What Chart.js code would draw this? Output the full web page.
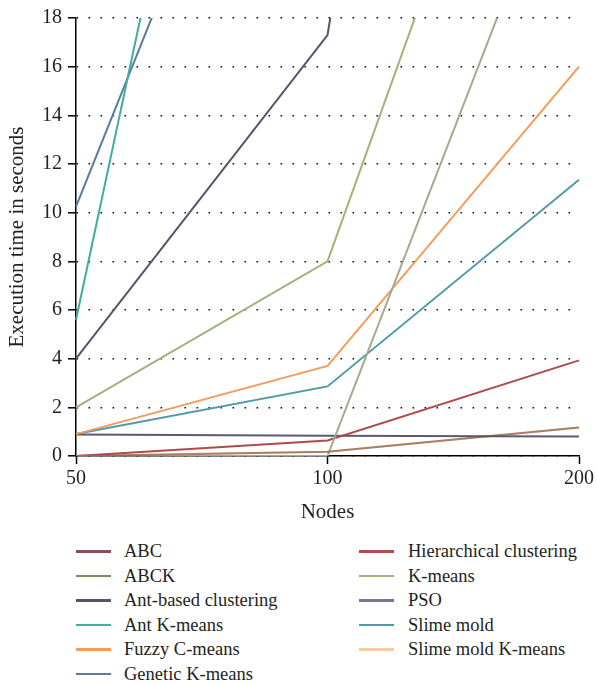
<!DOCTYPE html>
<html>
<head>
<meta charset="utf-8">
<script src="https://cdn.jsdelivr.net/npm/chart.js@4/dist/chart.umd.min.js"></script>
<style>
  html, body { margin: 0; padding: 0; background: #fff; }
  #wrap { position: relative; width: 597px; height: 684px; }
  #box { position: absolute; left: 0; top: 0; width: 597px; height: 530px; }
  #legend { position: absolute; left: 0; top: 539px; width: 597px; font-family: 'Liberation Serif', serif; font-size: 18.5px; color: #231f20; }
  .item { position: absolute; height: 24px; line-height: 24px; white-space: nowrap; }
  .swatch { position: absolute; top: 11px; width: 35px; height: 2.5px; }
  .label { position: absolute; top: 0; }
</style>
</head>
<body>
<div id="wrap">
  <div id="box"><canvas id="c"></canvas></div>
  <div id="legend"></div>
</div>
<script>
// ---- data ----
const categories = ['50', '100', '200'];
const yTicks = [0, 2, 4, 6, 8, 10, 12, 14, 16, 18];

const seriesNames = [
  'ABC', 'ABCK', 'Ant-based clustering', 'Ant K-means', 'Fuzzy C-means', 'Genetic K-means',
  'Hierarchical clustering', 'K-means', 'PSO', 'Slime mold', 'Slime mold K-means'
];
const abc                = [0, 0.17, 1.17];
const abck               = [0, 0, 26.7];
const antBasedClustering = [4.0, 17.3, 80];
const antKMeans          = [5.6, 54];
const fuzzyCMeans        = [0.9, 3.7, 16.0];
const geneticKMeans      = [10.25, 36];
const hierarchical       = [0, 0.64, 3.93];
const kMeans             = [2.0, 8.0, 36.8];
const pso                = [0.88, 0.83, 0.8];
const slimeMold          = [0.9, 2.86, 11.35];
const slimeMoldKMeans    = [0, 0.17, 1.17];

const seriesValues = [abc, abck, antBasedClustering, antKMeans, fuzzyCMeans, geneticKMeans,
  hierarchical, kMeans, pso, slimeMold, slimeMoldKMeans];
const seriesColors = ['rgba(112,80,62,0.6)', '#a4ab8c', '#58536d', '#3fae9e', '#f29d5c', '#5a7ba0',
  '#b04a4b', '#9db47a', '#5d5875', '#4d9ca8', '#f9c9a0'];
const legendColors = ['#8c4f55', '#7f8c5e', '#58536d', '#3fae9e', '#f29d5c', '#5a7ba0',
  '#b5494b', '#9db47a', '#7f7399', '#4d9ca8', '#f9c9a0'];

const datasets = seriesNames.map((name, i) => ({
  label: name,
  data: seriesValues[i],
  borderColor: seriesColors[i],
  backgroundColor: seriesColors[i],
  borderWidth: 2,
  pointRadius: 0,
  tension: 0,
  fill: false
}));

const FONT = 'Liberation Serif';
const TXT = '#231f20';

new Chart(document.getElementById('c'), {
  type: 'line',
  data: { labels: categories, datasets },
  options: {
    responsive: true,
    maintainAspectRatio: false,
    animation: false,
    layout: { padding: { left: 0, right: 17, top: 16, bottom: 0 } },
    plugins: { legend: { display: false }, tooltip: { enabled: false } },
    scales: {
      x: {
        type: 'category',
        offset: false,
        afterFit: (s) => { s.height = 74; },
        grid: { display: true, drawOnChartArea: false, drawTicks: true, tickLength: 8, tickColor: '#000', tickWidth: 1.5 },
        border: { display: true, color: '#000', width: 1.5 },
        ticks: { color: TXT, font: { family: FONT, size: 20 }, padding: 3, maxRotation: 0 },
        title: { display: true, text: 'Nodes', color: TXT, font: { family: FONT, size: 21 }, padding: { top: 0, bottom: 5 } }
      },
      y: {
        min: 0,
        max: 18,
        afterFit: (s) => { s.width = 76; },
        afterBuildTicks: (s) => { s.ticks = yTicks.map(v => ({ value: v })); },
        grid: { display: true, drawOnChartArea: true, color: '#111', lineWidth: 1.6,
                drawTicks: true, tickLength: 8, tickColor: '#000', tickWidth: 1.5, tickBorderDash: [] },
        border: { display: true, color: '#000', width: 1.5, dash: [1.6, 10.4], dashOffset: 0 },
        ticks: { color: TXT, font: { family: FONT, size: 20 }, padding: 6 },
        title: { display: true, text: 'Execution time in seconds', color: TXT, font: { family: FONT, size: 21 }, padding: { top: 5, bottom: 0 } }
      }
    }
  }
});

// HTML legend built from the same arrays (two columns)
const legend = document.getElementById('legend');
const leftCount = 6;
seriesNames.forEach((name, i) => {
  const col = i < leftCount ? 0 : 1;
  const row = i < leftCount ? i : i - leftCount;
  const item = document.createElement('div');
  item.className = 'item';
  item.style.left = (col === 0 ? 76 : 359) + 'px';
  item.style.top = (row * 24.5) + 'px';
  const sw = document.createElement('div');
  sw.className = 'swatch';
  sw.style.left = '0px';
  sw.style.background = legendColors[i];
  const lb = document.createElement('div');
  lb.className = 'label';
  lb.style.left = (col === 0 ? 48 : 49) + 'px';
  lb.textContent = name;
  item.appendChild(sw);
  item.appendChild(lb);
  legend.appendChild(item);
});
</script>
</body>
</html>
